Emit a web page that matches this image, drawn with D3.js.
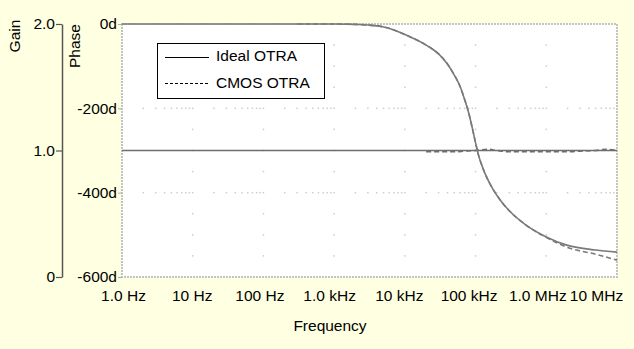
<!DOCTYPE html>
<html>
<head>
<meta charset="utf-8">
<script src="https://cdn.jsdelivr.net/npm/d3@7"></script>
<style>
html,body{margin:0;padding:0;background:#ffffe1;}
svg{display:block;}
text{font-family:"Liberation Sans",Arial,sans-serif;}
</style>
</head>
<body>
<svg id="chart" width="634" height="349"></svg>
<script>
// ---- data ----
const freqTicks = [1, 10, 100, 1e3, 1e4, 1e5, 1e6, 1e7];
const freqTickLabels = ["1.0 Hz", "10 Hz", "100 Hz", "1.0 kHz", "10 kHz", "100 kHz", "1.0 MHz", "10 MHz"];
const phaseTicks = [-600, -400, -200, 0];
const phaseTickLabels = ["-600d", "-400d", "-200d", "0d"];
const gainTicks = [0, 1, 2];
const gainTickLabels = ["0", "1.0", "2.0"];

const idealFreq  = [1, 10, 100, 1000, 2000, 3000, 5000, 7000, 1e4, 2e4, 3e4, 4e4, 5e4, 6e4, 7e4, 8e4, 9e4, 1e5, 1.1e5, 1.25e5, 1.45e5, 1.75e5, 2.2e5, 3e5, 5e5, 1e6, 2e6, 5e6, 1e7];
const idealPhase = [0, 0, 0, 0, -1, -2.4, -7, -14, -25, -50, -71, -95, -121, -147, -179, -211, -247, -282, -311, -339, -365, -391, -416, -443, -475, -505, -525, -536, -541];
const idealGain  = idealFreq.map(() => 1);

const cmosPhaseFreq = [300, 1000, 2000, 3000, 5000, 7000, 1e4, 2e4, 3e4, 4e4, 5e4, 6e4, 7e4, 8e4, 9e4, 1e5, 1.1e5, 1.25e5, 1.45e5, 1.75e5, 2.2e5, 3e5, 5e5, 1e6, 2e6, 5e6, 1e7];
const cmosPhase     = [0, 0, -1, -2.4, -7, -14, -25, -50, -71, -95, -121, -147, -179, -211, -247, -282, -311, -339, -365, -391, -416, -443, -475, -506, -530, -546, -560];
const cmosGainFreq  = [2e4, 3e4, 5e4, 7e4, 1e5, 1.5e5, 2e5, 3e5, 5e5, 1e6, 2e6, 3e6, 5e6, 7e6, 1e7];
const cmosGain      = [0.99, 0.99, 0.99, 0.995, 1.0, 1.01, 1.0, 0.99, 0.99, 0.99, 0.99, 0.995, 1.0, 1.01, 1.0];

const legendLabels = ["Ideal OTRA", "CMOS OTRA"];

// ---- layout ----
const svg = d3.select("#chart");
const L = 122, R = 617, T = 24, B = 277;
const x = d3.scaleLog().domain([1, 1e7]).range([L, R]);
const yP = d3.scaleLinear().domain([-600, 0]).range([B, T]);
const yG = d3.scaleLinear().domain([0, 2]).range([B, T]);
const labelShift = [1, -1, -4, -5, -6, -7, -9, -21];

svg.append("rect").attr("width", 634).attr("height", 349).attr("fill", "#ffffe1");
svg.append("rect").attr("x", L).attr("y", T).attr("width", R - L).attr("height", B - T).attr("fill", "#ffffff");

// grid dots
const gridCol = "#cdcdcd";
const grid = svg.append("g");
const minorPhase = d3.range(-550, 0, 50).filter(v => v % 200 !== 0);
[10, 100, 1e3, 1e4, 1e5, 1e6].forEach(f => {
  minorPhase.forEach(p => {
    grid.append("rect").attr("x", x(f) - 0.75).attr("y", yP(p) - 0.75).attr("width", 1.5).attr("height", 1.5).attr("fill", gridCol);
  });
});
const minorFreq = [];
for (let d = 0; d < 7; d++) for (let k = 1; k <= 9; k++) { const f = k * Math.pow(10, d); if (f > 1) minorFreq.push(f); }
[-400, -200].forEach(p => {
  minorFreq.forEach(f => {
    grid.append("rect").attr("x", x(f) - 0.75).attr("y", yP(p) - 0.75).attr("width", 1.5).attr("height", 1.5).attr("fill", gridCol);
  });
});

// border (dotted)
svg.append("rect").attr("x", L).attr("y", T).attr("width", R - L).attr("height", B - T)
  .attr("fill", "none").attr("stroke", "#c4c4c4").attr("stroke-width", 2).attr("stroke-dasharray", "2,1");

// axes
const fs = "15.5px";
const gainAxis = svg.append("g").attr("transform", "translate(62,0)")
  .call(d3.axisLeft(yG).tickValues(gainTicks).tickFormat((d, i) => gainTickLabels[i]).tickSize(6).tickSizeOuter(0).tickPadding(1));
gainAxis.select(".domain").attr("stroke", "#555").attr("stroke-width", 1.5);
gainAxis.selectAll(".tick line").attr("stroke", "#555").attr("stroke-width", 1.2);
gainAxis.selectAll("text").attr("font-size", fs).attr("fill", "#000").style("font-family", "Liberation Sans, Arial, sans-serif");

const phaseAxis = svg.append("g").attr("transform", `translate(${L},0)`)
  .call(d3.axisLeft(yP).tickValues(phaseTicks).tickFormat((d, i) => phaseTickLabels[i]).tickSize(4).tickSizeOuter(0).tickPadding(1));
phaseAxis.select(".domain").remove();
phaseAxis.selectAll(".tick line").attr("stroke", "#aaa");
phaseAxis.selectAll("text").attr("font-size", fs).attr("fill", "#000").style("font-family", "Liberation Sans, Arial, sans-serif");

const xAxis = svg.append("g").attr("transform", `translate(0,${B})`)
  .call(d3.axisBottom(x).tickValues(freqTicks).tickFormat((d, i) => freqTickLabels[i]).tickSize(0).tickPadding(13));
xAxis.select(".domain").remove();
xAxis.selectAll("text").attr("font-size", fs).attr("fill", "#000").style("font-family", "Liberation Sans, Arial, sans-serif")
  .attr("x", (d, i) => labelShift[i]);

// axis titles
svg.append("text").attr("transform", "translate(20,36) rotate(-90)").attr("text-anchor", "middle").attr("font-size", fs).text("Gain");
svg.append("text").attr("transform", "translate(80,46) rotate(-90)").attr("text-anchor", "middle").attr("font-size", fs).text("Phase");
svg.append("text").attr("x", 330).attr("y", 331).attr("text-anchor", "middle").attr("font-size", fs).text("Frequency");

// curves
const curveCol = "#7a7a7a";
const line = (xs, ys, ysc) => d3.line().x((d, i) => x(xs[i])).y((d, i) => ysc(ys[i])).curve(d3.curveMonotoneX)(xs);
const plot = svg.append("g");
plot.append("path").attr("d", line(idealFreq, idealGain, yG)).attr("fill", "none").attr("stroke", "#6e6e6e").attr("stroke-width", 1.6);
plot.append("path").attr("d", line(cmosGainFreq, cmosGain, yG)).attr("fill", "none").attr("stroke", "#6e6e6e").attr("stroke-width", 1.6).attr("stroke-dasharray", "5,3");
plot.append("path").attr("d", line(idealFreq, idealPhase, yP)).attr("fill", "none").attr("stroke", curveCol).attr("stroke-width", 1.6);
plot.append("path").attr("d", line(cmosPhaseFreq, cmosPhase, yP)).attr("fill", "none").attr("stroke", curveCol).attr("stroke-width", 1.6).attr("stroke-dasharray", "5,3");

// legend
const lg = svg.append("g");
lg.append("rect").attr("x", 157.5).attr("y", 43.5).attr("width", 167).attr("height", 55).attr("fill", "#fff").attr("stroke", "#000").attr("stroke-width", 1);
lg.append("line").attr("x1", 165).attr("x2", 209).attr("y1", 57.5).attr("y2", 57.5).attr("stroke", "#000").attr("stroke-width", 1);
lg.append("line").attr("x1", 165).attr("x2", 209).attr("y1", 83.5).attr("y2", 83.5).attr("stroke", "#000").attr("stroke-width", 1).attr("stroke-dasharray", "3,2");
lg.append("text").attr("x", 216).attr("y", 61).attr("font-size", fs).text(legendLabels[0]);
lg.append("text").attr("x", 216).attr("y", 88).attr("font-size", fs).text(legendLabels[1]);
</script>
</body>
</html>
